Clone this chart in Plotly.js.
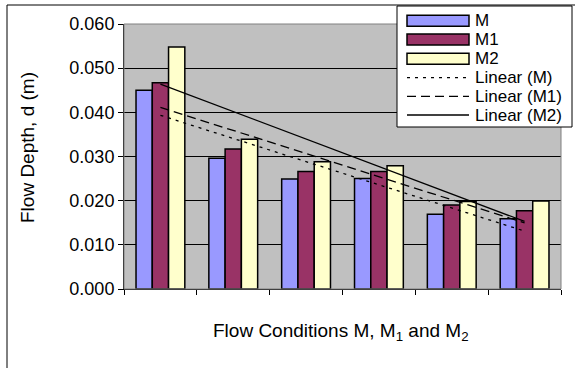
<!DOCTYPE html>
<html><head><meta charset="utf-8">
<script src="https://cdn.plot.ly/plotly-3.0.1.min.js"></script>
<style>html,body{margin:0;padding:0;background:#fff;}#chart{width:575px;height:368px;}</style>
</head><body><div id="chart"></div>
<script>
// ---- data ----
const categories = ['1', '2', '3', '4', '5', '6'];
const seriesNames = ['M', 'M1', 'M2'];
const valuesM  = [0.0450, 0.0296, 0.0249, 0.0250, 0.0169, 0.0159];
const valuesM1 = [0.0467, 0.0317, 0.0266, 0.0266, 0.0190, 0.0177];
const valuesM2 = [0.0548, 0.0339, 0.0288, 0.0279, 0.0198, 0.0199];
const trendNames = ['Linear (M)', 'Linear (M1)', 'Linear (M2)'];
const yTickValues = [0, 0.01, 0.02, 0.03, 0.04, 0.05, 0.06];
const yTickLabels = ['0.000', '0.010', '0.020', '0.030', '0.040', '0.050', '0.060'];
const xTitle = 'Flow Conditions M, M<sub>1</sub> and M<sub>2</sub>';
const yTitle = 'Flow Depth, d (m)';

// ---- styling ----
const FONT = 'Liberation Sans, Arial, sans-serif';
const barColors = ['#9999FF', '#993366', '#FFFFCC'];
const trendDash = ['3px,5px', '9px,5px', 'solid'];
const allValues = [valuesM, valuesM1, valuesM2];

const W = 575, H = 368;
const M = {l: 124, r: 14, t: 24, b: 79};
const PW = W - M.l - M.r, PH = H - M.t - M.b;
const px = x => (x - M.l) / PW;
const py = y => (H - M.b - y) / PH;

function linearFit(vals) {
  const n = vals.length;
  const xs = vals.map((_, i) => i);
  const mx = xs.reduce((a, b) => a + b, 0) / n;
  const my = vals.reduce((a, b) => a + b, 0) / n;
  let sxy = 0, sxx = 0;
  for (let i = 0; i < n; i++) { sxy += (xs[i] - mx) * (vals[i] - my); sxx += (xs[i] - mx) ** 2; }
  const slope = sxy / sxx;
  return i => my + slope * (i - mx);
}

const traces = [];
allValues.forEach((vals, k) => {
  traces.push({
    type: 'bar', name: seriesNames[k], x: categories, y: vals,
    marker: {color: barColors[k], line: {color: '#000', width: 1.5}},
    showlegend: false, hoverinfo: 'skip'
  });
});
allValues.forEach((vals, k) => {
  const f = linearFit(vals);
  const last = categories.length - 1;
  traces.push({
    type: 'scatter', mode: 'lines', name: trendNames[k],
    x: [categories[0], categories[last]], y: [f(0), f(last)],
    line: {color: '#000', width: 1.3, dash: trendDash[k]},
    showlegend: false, hoverinfo: 'skip'
  });
});

// custom legend (Excel style, wide swatches)
const shapes = [];
const annotations = [];
// outer chart border
shapes.push({type: 'rect', xref: 'paper', yref: 'paper', x0: px(7), x1: px(590), y0: py(5), y1: py(380),
  line: {color: '#000', width: 1}, fillcolor: 'rgba(0,0,0,0)', layer: 'below'});
// plot area border
shapes.push({type: 'rect', xref: 'paper', yref: 'paper', x0: 0, x1: 1, y0: 0, y1: 1,
  line: {color: '#808080', width: 1}, fillcolor: 'rgba(0,0,0,0)', layer: 'above'});
// legend box
shapes.push({type: 'rect', xref: 'paper', yref: 'paper', x0: px(397), x1: px(572), y0: py(6), y1: py(127),
  line: {color: '#000', width: 1}, fillcolor: '#FFFFFF', layer: 'above'});
const rowY = [20.7, 39.6, 58.8, 77.7, 96.3, 115];
const legendLabels = seriesNames.concat(trendNames);
legendLabels.forEach((lab, i) => {
  const yc = rowY[i];
  if (i < 3) {
    shapes.push({type: 'rect', xref: 'paper', yref: 'paper', x0: px(407), x1: px(469), y0: py(yc - 5.5), y1: py(yc + 5.5),
      line: {color: '#000', width: 1.5}, fillcolor: barColors[i], layer: 'above'});
  } else {
    shapes.push({type: 'line', xref: 'paper', yref: 'paper', x0: px(407), x1: px(469), y0: py(yc), y1: py(yc),
      line: {color: '#000', width: 1.3, dash: trendDash[i - 3]}, layer: 'above'});
  }
  annotations.push({xref: 'paper', yref: 'paper', x: px(474), y: py(yc), xanchor: 'left', yanchor: 'middle',
    borderpad: 0,
    text: lab, showarrow: false, font: {family: FONT, size: 17, color: '#000'}});
});
annotations.push({xref: 'paper', yref: 'paper', x: px(27), y: py(148), xanchor: 'center', yanchor: 'middle',
  text: yTitle, textangle: -90, showarrow: false, font: {family: FONT, size: 19, color: '#000'}});
annotations.push({xref: 'paper', yref: 'paper', x: px(341), y: py(318), xanchor: 'center', yanchor: 'top',
  text: xTitle, showarrow: false, font: {family: FONT, size: 19, color: '#000'}});

const layout = {
  width: W, height: H, margin: M,
  paper_bgcolor: '#FFFFFF', plot_bgcolor: '#C0C0C0',
  barmode: 'group', bargap: 0.33, bargroupgap: 0,
  showlegend: false,
  font: {family: FONT, size: 18, color: '#000'},
  xaxis: {
    type: 'category', range: [-0.5, 5.5], tickson: 'boundaries', ticks: 'outside', ticklen: 5,
    tickcolor: '#000', showticklabels: false, showgrid: false, showline: true, linecolor: '#000', linewidth: 1,
    zeroline: false, fixedrange: true
  },
  yaxis: {
    range: [0, 0.06], tickvals: yTickValues, ticktext: yTickLabels, ticks: 'outside', ticklen: 5,
    tickcolor: '#000', showgrid: true, gridcolor: '#000', gridwidth: 1, showline: true, linecolor: '#000',
    linewidth: 1, zeroline: false, tickfont: {family: FONT, size: 18, color: '#000'}, fixedrange: true
  },
  shapes: shapes, annotations: annotations
};
Plotly.newPlot('chart', traces, layout, {staticPlot: true, displayModeBar: false});
</script>
</body></html>
